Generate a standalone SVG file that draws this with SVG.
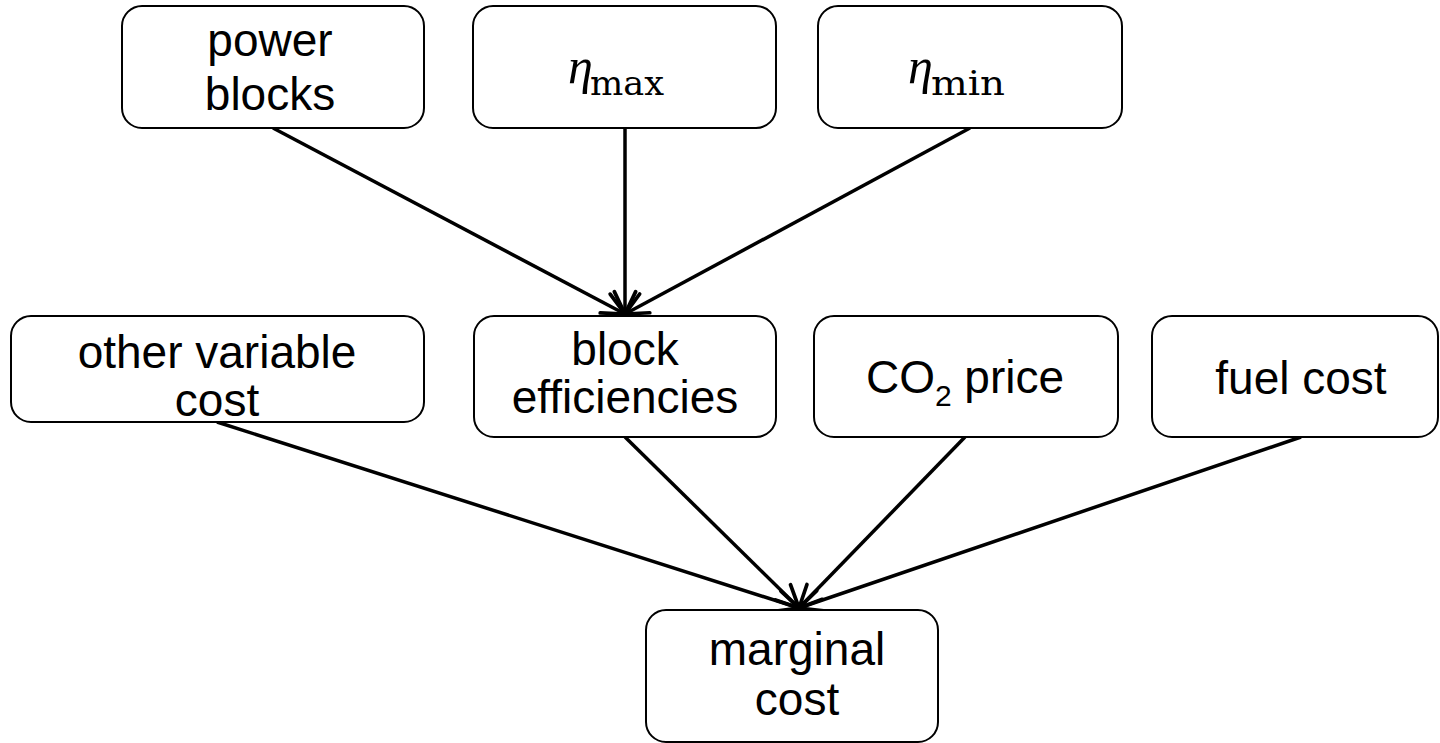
<svg xmlns="http://www.w3.org/2000/svg" width="1440" height="743" viewBox="0 0 1440 743">
  <style>
    .box { fill: #ffffff; stroke: #000000; stroke-width: 2; }
    .lbl { font-family: "Liberation Sans", Arial, sans-serif; font-size: 46px; fill: #000000; text-anchor: middle; }
    .eta { font-family: "Liberation Serif", "DejaVu Serif", serif; font-style: italic; font-size: 50px; fill: #000000; }
    .sub { font-family: "DejaVu Serif", "Liberation Serif", serif; font-size: 34px; fill: #000000; }
    .conn { stroke: #000000; stroke-width: 3.5; fill: none; marker-end: url(#arrow); }
  </style>
  <defs>
    <marker id="arrow" markerUnits="userSpaceOnUse" markerWidth="32" markerHeight="32" viewBox="-26 -15 30 30" refX="0" refY="0" orient="auto">
      <path d="M -21 -10 L 0 0 L -21 10" fill="none" stroke="#000000" stroke-width="3.5" stroke-linecap="round" stroke-linejoin="round"/>
    </marker>
  </defs>
  <rect width="1440" height="743" fill="#ffffff"/>

  <g id="connectors">
    <line class="conn" x1="273" y1="128" x2="625" y2="314"/>
    <line class="conn" x1="625" y1="128" x2="625" y2="314"/>
    <line class="conn" x1="970" y1="128" x2="625" y2="314"/>
    <line class="conn" x1="217" y1="422" x2="799" y2="608"/>
    <line class="conn" x1="625" y1="437" x2="799" y2="608"/>
    <line class="conn" x1="965" y1="437" x2="799" y2="608"/>
    <line class="conn" x1="1301" y1="437" x2="799" y2="608"/>
  </g>

  <g id="power-blocks">
    <rect class="box" x="122" y="6" width="302" height="122" rx="20"/>
    <text class="lbl" x="270" y="56">power</text>
    <text class="lbl" x="270" y="110">blocks</text>
  </g>

  <g id="eta-max">
    <rect class="box" x="473" y="6" width="303" height="122" rx="20"/>
    <text class="eta" x="568" y="83">η</text>
    <text class="sub" x="590" y="95" textLength="74" lengthAdjust="spacingAndGlyphs">max</text>
  </g>

  <g id="eta-min">
    <rect class="box" x="818" y="6" width="304" height="122" rx="20"/>
    <text class="eta" x="908" y="83">η</text>
    <text class="sub" x="931" y="95" textLength="74" lengthAdjust="spacingAndGlyphs">min</text>
  </g>

  <g id="other-variable-cost">
    <rect class="box" x="11" y="316" width="413" height="106" rx="20"/>
    <text class="lbl" x="217" y="368">other variable</text>
    <text class="lbl" x="217" y="416">cost</text>
  </g>

  <g id="block-efficiencies">
    <rect class="box" x="474" y="316" width="302" height="121" rx="20"/>
    <text class="lbl" x="625" y="365">block</text>
    <text class="lbl" x="625" y="413">efficiencies</text>
  </g>

  <g id="co2-price">
    <rect class="box" x="814" y="316" width="304" height="121" rx="20"/>
    <text class="lbl" x="965" y="393">CO<tspan font-size="30" dy="13">2</tspan><tspan dy="-13"> price</tspan></text>
  </g>

  <g id="fuel-cost">
    <rect class="box" x="1152" y="316" width="286" height="121" rx="20"/>
    <text class="lbl" x="1301" y="394">fuel cost</text>
  </g>

  <g id="marginal-cost">
    <rect class="box" x="646" y="610" width="292" height="132" rx="20"/>
    <text class="lbl" x="797" y="665">marginal</text>
    <text class="lbl" x="797" y="715">cost</text>
  </g>
</svg>
